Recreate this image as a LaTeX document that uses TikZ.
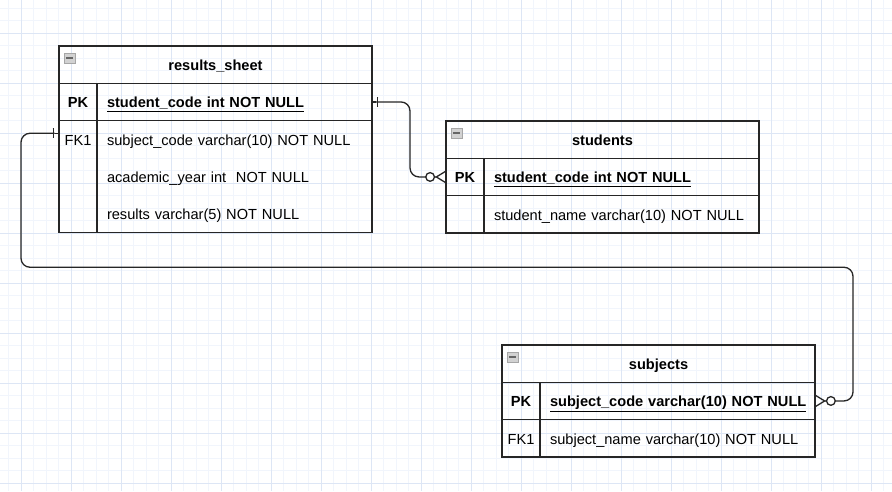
\documentclass[tikz,border=0pt]{standalone}
\usepackage{fontspec}
\setmainfont{Liberation Sans}
\usetikzlibrary{arrows.meta}
\usetikzlibrary{positioning}
\definecolor{gridmajor}{RGB}{221,230,245}
\definecolor{gridminor}{RGB}{241,245,252}
\colorlet{erline}{black!85}
\newcommand\erfont{\fontsize{14.6}{18}\selectfont}
\tikzset{
  one/.tip={Bar[width=10pt,length=1.3pt] Rectangle[length=5pt,width=0pt 1]},
  many/.tip={Circle[open,fill=white,length=10pt,width=10pt] Straight Barb[reversed,length=9pt,width=11pt]},
}
\tikzstyle{cell}=[draw=erline,line width=1.3pt,inner sep=0pt,outer sep=0pt,minimum height=37.3pt,text height=14.5pt,text depth=2.5pt,font=\erfont]
\tikzstyle{headcell}=[cell,minimum width=313pt,font=\erfont\bfseries]
\tikzstyle{keycell}=[cell,minimum width=38pt]
\tikzstyle{fieldcell}=[cell,text width=255pt,inner xsep=10pt,align=left]
\tikzstyle{pkcell}=[fieldcell,font=\erfont\bfseries]
\tikzstyle{icon}=[draw=gray!70,fill=gray!35,line width=.6pt,minimum width=11pt,minimum height=10pt,inner sep=0pt]
\tikzstyle{rel}=[draw=erline,line width=1.3pt,rounded corners=9pt,arrows={one}-{many}]

\begin{document}
\begin{tikzpicture}[x=1pt,y=-1pt]
	\useasboundingbox[fill=white] (0,0) rectangle (892,491);
	% grid
	\foreach \x in {8.5,21,...,892} \draw[gridminor,line width=1pt] (\x,0) -- (\x,491);
	\foreach \y in {8,20.5,...,491} \draw[gridminor,line width=1pt] (0,\y) -- (892,\y);
	\foreach \x in {21,71,...,892} \draw[gridmajor,line width=1pt] (\x,0) -- (\x,491);
	\foreach \y in {33,83,...,491} \draw[gridmajor,line width=1pt] (0,\y) -- (892,\y);

	% results_sheet
	\node[headcell,anchor=north west] (rs) at (59,46) {results\_sheet};
	\node[icon,anchor=north west] (rs-icon) at ([xshift=5pt,yshift=-7pt]rs.north west) {\color{gray!80!black}\rule[.2ex]{7pt}{1.6pt}};
	\node[keycell,font=\erfont\bfseries,anchor=north west] (rs-pk) at (rs.south west) {PK};
	\node[pkcell,right=0pt of rs-pk] (rs-pkf) {\underline{student\_code int NOT NULL}};
	\node[keycell,draw=none,anchor=north west] (rs-fk) at (rs-pk.south west) {FK1};
	\node[fieldcell,draw=none,right=0pt of rs-fk] (rs-f1) {subject\_code varchar(10) NOT NULL};
	\node[keycell,draw=none,below=0pt of rs-fk] (rs-k2) {};
	\node[fieldcell,draw=none,right=0pt of rs-k2] (rs-f2) {academic\_year int\ \ NOT NULL};
	\node[keycell,draw=none,below=0pt of rs-k2] (rs-k3) {};
	\node[fieldcell,draw=none,right=0pt of rs-k3] (rs-f3) {results varchar(5) NOT NULL};
	\draw[erline,line width=1.3pt] (rs-fk.north west) rectangle (rs-f3.south east);
	\draw[erline,line width=1.3pt] (rs-fk.north east) -- (rs-k3.south east);

	% students
	\node[headcell,anchor=north west] (st) at (446,121) {students};
	\node[icon,anchor=north west] (st-icon) at ([xshift=5pt,yshift=-7pt]st.north west) {\color{gray!80!black}\rule[.2ex]{7pt}{1.6pt}};
	\node[keycell,font=\erfont\bfseries,anchor=north west] (st-pk) at (st.south west) {PK};
	\node[pkcell,right=0pt of st-pk] (st-pkf) {\underline{student\_code int NOT NULL}};
	\node[keycell,below=0pt of st-pk] (st-k1) {};
	\node[fieldcell,right=0pt of st-k1] (st-f1) {student\_name varchar(10) NOT NULL};

	% subjects
	\node[headcell,anchor=north west] (sb) at (502,345) {subjects};
	\node[icon,anchor=north west] (sb-icon) at ([xshift=5pt,yshift=-7pt]sb.north west) {\color{gray!80!black}\rule[.2ex]{7pt}{1.6pt}};
	\node[keycell,font=\erfont\bfseries,anchor=north west] (sb-pk) at (sb.south west) {PK};
	\node[pkcell,right=0pt of sb-pk] (sb-pkf) {\underline{subject\_code varchar(10) NOT NULL}};
	\node[keycell,below=0pt of sb-pk] (sb-fk) {FK1};
	\node[fieldcell,right=0pt of sb-fk] (sb-f1) {subject\_name varchar(10) NOT NULL};

	% relations
	\coordinate (rs-fkpt) at ([yshift=6pt]rs-fk.west);
	\draw[rel] (rs-pkf.east) -- ++(38,0) |- (st-pk.west);
	\draw[rel] (rs-fkpt) -- ++(-38,0) -- ++(0,134) -| ([xshift=38pt]sb-pkf.east) -- (sb-pkf.east);
\end{tikzpicture}
\end{document}
